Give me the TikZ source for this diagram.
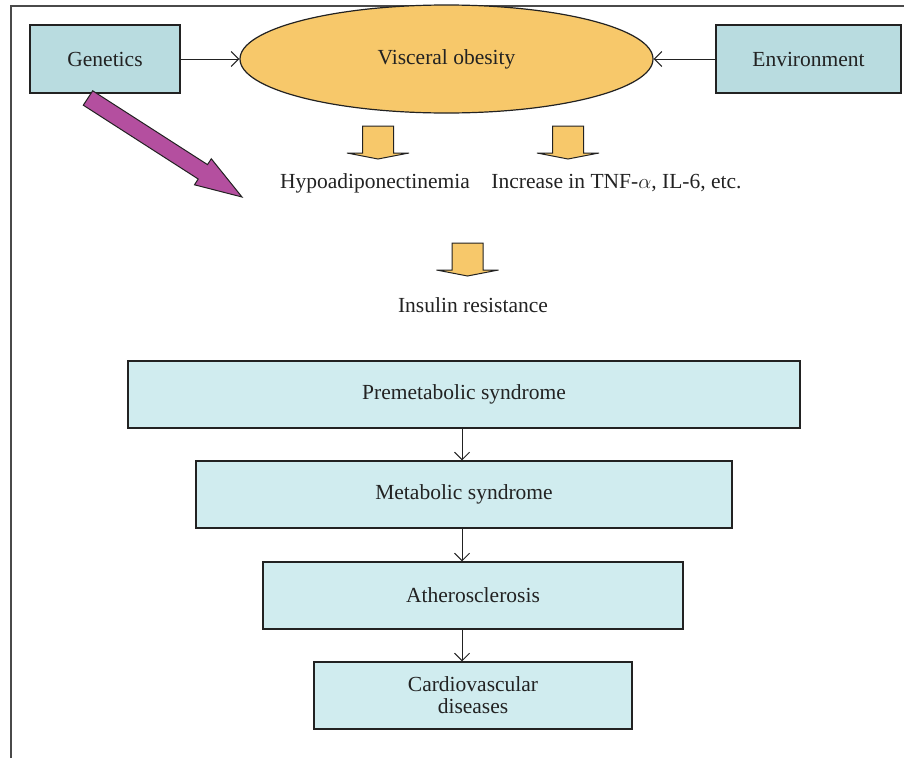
\documentclass[tikz,border=0pt]{standalone}
\usepackage{fontspec}
\setmainfont{Liberation Serif}
\usetikzlibrary{shapes.geometric, arrows.meta}

\definecolor{boxblue}{HTML}{B9DCE0}
\definecolor{boxpale}{HTML}{D0ECEF}
\definecolor{fatorange}{HTML}{F7C86A}
\definecolor{genpurple}{HTML}{B44F9F}
\definecolor{inkgray}{HTML}{222222}
\definecolor{framegray}{HTML}{4A4A4A}

\tikzset{
	factorbox/.style={draw=inkgray, line width=1.2pt, fill=boxblue, minimum width=150pt, minimum height=68pt, inner sep=0pt},
	stagebox/.style={draw=inkgray, line width=1.2pt, fill=boxpale, minimum height=67pt, inner sep=0pt, align=center},
	thinarrow/.style={draw=inkgray, line width=1pt, -{Straight Barb[length=7.5pt,width=15pt]}},
	blockarrow/.style={draw=inkgray, line width=1pt, fill=fatorange, line join=miter},
}

\begin{document}
\begin{tikzpicture}[x=1pt, y=-1pt, every node/.style={text=inkgray, font=\fontsize{21.5}{22}\selectfont}]
	
	\useasboundingbox (0,0) rectangle (904,758);
	
	% Frame
	\draw [framegray, line width=1.5pt] (11,758) -- (11,6) -- (904,6);
	
	%% TOP ROW
	\node [ellipse, draw=inkgray, line width=1.2pt, fill=fatorange, minimum width=413pt, minimum height=108pt, inner sep=0pt] (obesity) at (446.5,59) {Visceral obesity};
	\node [factorbox] (genetics) at (105,59) {Genetics};
	\node [factorbox, minimum width=185pt] (environment) at (808.5,59) {Environment};
	
	\draw [thinarrow] (genetics.east) -- (obesity.west);
	\draw [thinarrow] (environment.west) -- (obesity.east);
	
	% Genetics arrow
	\draw [draw=inkgray, line width=1pt, fill=genpurple, line join=miter]
		(92.7,90.8) -- (207.5,164.6) -- (211.3,158.8) -- (242,197) -- (194.5,184.8) -- (198.2,179.0) -- (83.3,105.2) -- cycle;
	
	%% MIDDLE
	% Block arrows
	\foreach \x/\y in {378/126, 568/126, 467.5/243}
	{
		\draw [blockarrow] (\x-15.5,\y) -- (\x+15.5,\y) -- (\x+15.5,\y+27) -- (\x+31,\y+27) -- (\x,\y+33) -- (\x-31,\y+27) -- (\x-15.5,\y+27) -- cycle;
	}
	
	\node (hypo) at (375,183) {Hypoadiponectinemia};
	\node (tnf) at (616.5,183) {Increase in TNF-$\alpha$, IL-6, etc.};
	\node (insulin) at (473,305) {Insulin resistance};
	
	%% STAGES
	\node [stagebox, minimum width=672pt] (premet) at (464,394.5) {Premetabolic syndrome};
	\node [stagebox, minimum width=536pt] (metab) at (464,494.5) {Metabolic syndrome};
	\node [stagebox, minimum width=420pt] (athero) at (473,595.5) {Atherosclerosis};
	\node [stagebox, minimum width=318pt] (cardio) at (473,695.5) {Cardiovascular\\diseases};
	
	\coordinate (spine) at (462,0);
	\draw [thinarrow] (premet.south -| spine) -- (metab.north -| spine);
	\draw [thinarrow] (metab.south -| spine) -- (athero.north -| spine);
	\draw [thinarrow] (athero.south -| spine) -- (cardio.north -| spine);
	
\end{tikzpicture}
\end{document}
